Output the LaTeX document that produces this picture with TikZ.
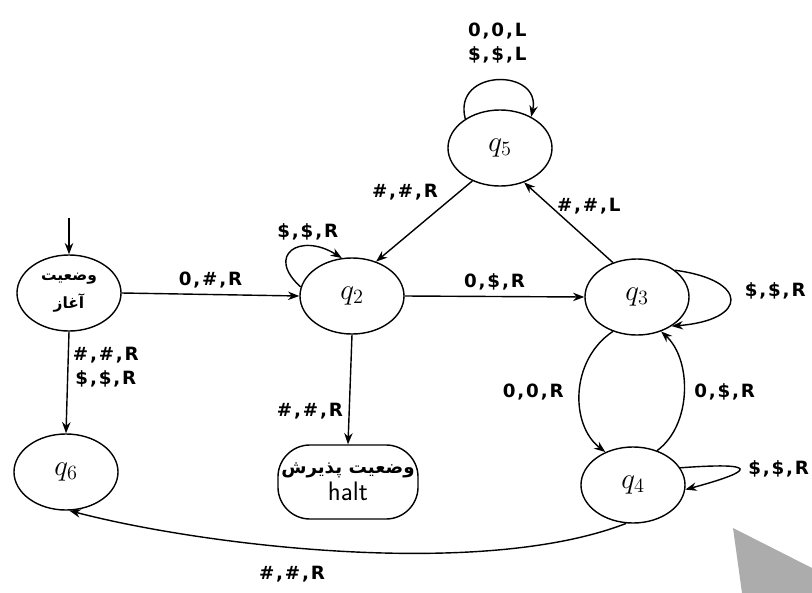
\documentclass[tikz,border=0pt]{standalone}
\usepackage{fontspec}
\newfontfamily\lblfont[LetterSpace=10]{DejaVu Sans Bold}
\newfontfamily\farsi[Script=Arabic]{DejaVu Sans Bold}
\TeXXeTstate=1
\usetikzlibrary{arrows.meta,shapes.geometric,positioning}
\begin{document}
\begin{tikzpicture}[x=0.025cm, y=-0.025cm,
   >={Stealth[length=8pt,width=6pt]},
   every path/.style={line width=1pt},
   state/.style={draw, ellipse, minimum width=2.6cm, minimum height=1.9cm,
                 inner sep=0pt, align=center, font=\fontsize{21}{23}\selectfont},
   tr/.style={font=\lblfont\fontsize{13}{17}\selectfont, align=center, inner sep=2pt}]

\useasboundingbox (0,0) rectangle (812,593);

% states
\node[state] (start) at (69,293) {\farsi\fontsize{11}{13}\selectfont\beginR وضعیت\endR\\[-3pt]
                                   \farsi\fontsize{11}{13}\selectfont\beginR آغاز\endR};
\node[state] (q2) at (352,296) {$q_2$};
\node[state] (q5) at (500,148) {$q_5$};
\node[state] (q3) at (637,297) {$q_3$};
\node[state] (q4) at (633,485) {$q_4$};
\node[state] (q6) at (66,472) {$q_6$};
\node[draw, rounded corners=0.8cm, minimum width=3.5cm, minimum height=1.85cm,
      align=center, inner sep=0pt] (halt) at (348,482)
      {\farsi\fontsize{13}{15}\selectfont\beginR وضعیت پذیرش\endR\\[2pt]
       \fontsize{19}{21}\selectfont\textsf{halt}};
\coordinate (init) at (69,218);

% transitions
\draw[->] (init) -- (start);
\draw[->] (start.east) -- (q2.west) node[tr, midway, above=2pt] {0,\#,R};
\draw[->] (start.south) -- (q6.north) node[tr, pos=0.35, right=1pt] {\#,\#,R\\\$,\$,R};
\draw[->] (q2.170) .. controls (265,255) and (300,232) .. (q2.105)
      node[tr, pos=0.7, above=2pt] {\$,\$,R};
\draw[->] (q2.east) -- (q3.west) node[tr, midway, above=2pt] {0,\$,R};
\draw[->] (q2.south) -- (halt.north) node[tr, pos=0.7, left=2pt] {\#,\#,R};
\draw[->] (q5.-130) -- (q2.55) node[tr, pos=0.3, above left=2pt] {\#,\#,R};
\draw[->] (q3.125) -- (q5.-55) node[tr, pos=0.7, right=2pt] {\#,\#,L};
\draw[->] (q5.140) .. controls (452,68) and (542,68) .. (q5.45)
      node[tr, pos=0.5, above=10pt] {0,0,L\\\$,\$,L};
\draw[->] (q3.35) .. controls (749,280) and (749,320) .. (q3.-40)
      node[tr, pos=0.5, above right=-2pt and 8pt] {\$,\$,R};
\draw[->] (q3.-125) .. controls (570,360) and (570,425) .. (q4.130)
      node[tr, midway, left=9pt] {0,0,R};
\draw[->] (q4.55) .. controls (692,425) and (692,360) .. (q3.-55)
      node[tr, midway, right=5pt] {0,\$,R};
\draw[->] (q4.20) .. controls (758,462) and (758,470) .. (q4.-5)
      node[tr, pos=0.5, right=4pt] {\$,\$,R};
\draw[->] (q4.-100) .. controls (480,580) and (200,545) .. (q6.-85)
      node[tr, pos=0.58, below=11pt] {\#,\#,R};

% grey corner
\fill[gray!65] (733,528) -- (812,568) -- (812,593) -- (742,593) -- cycle;
\end{tikzpicture}
\end{document}
